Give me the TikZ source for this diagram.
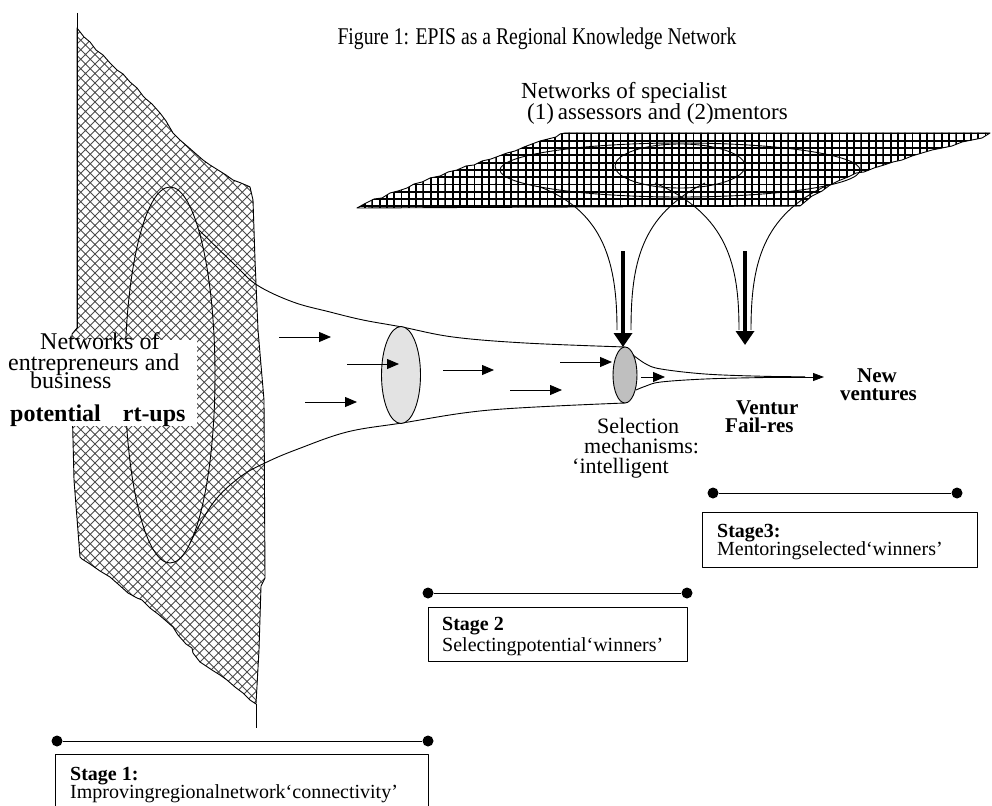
\documentclass[tikz,border=0pt]{standalone}
\usepackage{fontspec}
\setmainfont{Liberation Serif}
\usetikzlibrary{patterns,arrows.meta}
\pgfdeclarepatternformonly{xhatch}{\pgfpoint{-1pt}{-1pt}}{\pgfpoint{10.5pt}{10.5pt}}{\pgfpoint{9.5pt}{9.5pt}}{%
  \pgfsetlinewidth{0.8pt}%
  \pgfpathmoveto{\pgfpoint{-0.5pt}{-0.5pt}}\pgfpathlineto{\pgfpoint{10pt}{10pt}}%
  \pgfpathmoveto{\pgfpoint{-0.5pt}{10pt}}\pgfpathlineto{\pgfpoint{10pt}{-0.5pt}}%
  \pgfusepath{stroke}}
\pgfdeclarepatternformonly{sqgrid}{\pgfpoint{-1pt}{-1pt}}{\pgfpoint{8.3pt}{8.3pt}}{\pgfpoint{7.3pt}{7.3pt}}{%
  \pgfsetlinewidth{1.9pt}%
  \pgfpathmoveto{\pgfpoint{0pt}{-1pt}}\pgfpathlineto{\pgfpoint{0pt}{8.3pt}}%
  \pgfpathmoveto{\pgfpoint{-1pt}{0pt}}\pgfpathlineto{\pgfpoint{8.3pt}{0pt}}%
  \pgfusepath{stroke}}
\begin{document}
\begin{tikzpicture}[x=1pt,y=-1pt,line join=round,
  outl/.style={line width=0.9pt},
  flow/.style={-{Triangle[length=12pt,width=10pt]},line width=0.8pt},
  bigflow/.style={-{Triangle[length=14pt,width=18pt]},line width=3.5pt},
  lbl/.style={inner sep=0pt,anchor=base west,font=\fontsize{24}{20}\selectfont},
  rlbl/.style={inner sep=0pt,anchor=base west,font=\fontsize{22}{20}\selectfont},
  blbl/.style={inner sep=0pt,anchor=base west,font=\fontsize{21}{20}\selectfont\bfseries},
  stagetxt/.style={inner sep=0pt,anchor=base west,font=\fontsize{20}{18}\selectfont},
  stagehead/.style={stagetxt,font=\fontsize{20}{18}\selectfont\bfseries},
  stagebox/.style={draw,line width=0.9pt,fill=white},
  dot/.style={circle,fill=black,inner sep=0pt,minimum size=11pt}]
\useasboundingbox (0,0) rectangle (992,805);
\clip (0,0) rectangle (992,805);

% title
\node[inner sep=0pt,anchor=base] (title) at (537,45) {\fontsize{24}{24}\selectfont\scalebox{0.82}[1]{Figure 1: EPIS as a Regional Knowledge Network}};

% left hatched region
\draw[outl,pattern=xhatch,pattern color=black!70]
  (77,28) -- (84,37) -- (90,42) -- (96,50) -- (103,55) -- (110,63) -- (117,70) -- (123,74) -- (130,82) -- (137,88) -- (143,96) -- (146,99) -- (152,104) -- (160,113) -- (166,121) -- (173,133) -- (180,140) -- (187,146) -- (195,153) -- (203,160) -- (210,165) -- (218,170) -- (226,175) -- (233,180) -- (241,183) -- (248,186) -- (250,187)
  -- (253,200) -- (255,260) -- (258,330) -- (264,400) -- (265,578) -- (261,586) -- (259,650) -- (256,704)
  -- (250,700) -- (243,693) -- (235,687) -- (227,680) -- (220,675) -- (212,670) -- (200,662) -- (193,653) -- (192,648) -- (186,644) -- (178,635) -- (173,627) -- (165,620) -- (158,614) -- (150,608) -- (142,600) -- (137,598) -- (128,593) -- (118,584) -- (110,577) -- (100,571) -- (90,564) -- (82,559) -- (80,557)
  -- (74,480) -- (72,400) -- (72,334) -- (77,328) -- cycle;
\draw[outl] (77,13) -- (77,328);
\draw[outl] (256,704) -- (256,728);
\draw[outl] (170,375) ellipse [x radius=45, y radius=188];

% funnel
\draw[outl] plot[smooth,tension=0.6] coordinates {(199,230) (233,263) (257,285) (293,302) (330,312) (363,320) (402,327) (453,337) (525,343) (625,347)};
\draw[outl] plot[smooth,tension=0.6] coordinates {(190,543) (213,503) (240,477) (267,462) (298,449) (347,432) (402,423) (490,410) (625,403)};
\draw[outl,fill=gray!22] (401,375) ellipse [x radius=19.5, y radius=48.5];
\draw[outl,fill=gray!50] (625,375) ellipse [x radius=12, y radius=28];
\draw[outl] plot[smooth,tension=0.6] coordinates {(633,355) (646,364) (661,369) (705,374) (760,376.2) (805,376.8)};
\draw[outl] plot[smooth,tension=0.6] coordinates {(636,390) (646,386) (661,382) (705,379) (760,377.6) (805,377.2)};

% label on the left
\fill[white] (0,340) rectangle (197,426);
\node[lbl] (l1) at (40,349) {Networks of};
\node[lbl] (l2) at (8,370) {entrepreneurs and};
\node[lbl] (l3) at (30,388) {business};
\node[lbl,font=\fontsize{24}{20}\selectfont\bfseries] (l4) at (10,421) {potential\hspace{22pt}rt-ups};

% flow arrows
\coordinate (f1s) at (279,337); \coordinate (f1e) at (331,337);
\coordinate (f2s) at (347,364); \coordinate (f2e) at (399,364);
\coordinate (f3s) at (305,402); \coordinate (f3e) at (357,402);
\coordinate (f4s) at (443,370); \coordinate (f4e) at (494,370);
\coordinate (f5s) at (560,362); \coordinate (f5e) at (612,362);
\coordinate (f6s) at (510,390); \coordinate (f6e) at (562,390);
\coordinate (f7s) at (641,377); \coordinate (f7e) at (665,377);
\coordinate (ms) at (770,377); \coordinate (me) at (824,377);
\foreach \a in {1,...,7} {\draw[flow] (f\a s) -- (f\a e);}
\draw[flow,-{Triangle[length=11pt,width=8pt]}] (ms) -- (me);

% top grid region
\draw[outl,pattern=sqgrid,pattern color=black]
  (357,208) -- (366,203) -- (374,199) -- (382,198) -- (390,193) -- (398,191) -- (407,188) -- (414,184) -- (422,182) -- (430,178) -- (440,176) -- (448,172) -- (457,170) -- (466,166) -- (474,165) -- (482,161) -- (491,159) -- (499,156) -- (507,153) -- (515,151) -- (524,147) -- (532,144) -- (540,141) -- (548,139) -- (556,137) -- (560,134) -- (565,133)
  -- (990,133)
  -- (982,138) -- (972,140) -- (962,142) -- (952,146) -- (942,148) -- (932,150) -- (922,153) -- (912,156) -- (902,160) -- (893,162) -- (884,165) -- (874,168) -- (864,172) -- (856,173) -- (848,177) -- (838,181) -- (830,185) -- (822,191) -- (812,196) -- (806,201) -- (800,206)
  -- cycle;
\draw[outl] (680,170) ellipse [x radius=180, y radius=27];
\draw[outl] (680,166) ellipse [x radius=65, y radius=22];
\node[lbl,font=\fontsize{23}{20}\selectfont] (s1) at (521,99) {Networks of specialist};
\node[lbl,font=\fontsize{23}{20}\selectfont] (s2) at (527,120) {(1)\,assessors and (2)mentors};

% curves from the networks
\draw[outl] (540,187) .. controls (605,212) and (617,265) .. (617,330);
\draw[outl] (705,183) .. controls (640,215) and (631,265) .. (631,330);
\draw[outl] (655,183) .. controls (728,215) and (739,265) .. (739,330);
\draw[outl] (828,185) .. controls (762,215) and (751,265) .. (751,330);
\coordinate (t1s) at (623,251); \coordinate (t1e) at (623,347);
\coordinate (t2s) at (745,251); \coordinate (t2e) at (745,345);
\draw[bigflow] (t1s) -- (t1e);
\draw[bigflow] (t2s) -- (t2e);

% right texts
\node[rlbl] (sel1) at (597,433) {Selection};
\node[rlbl] (sel2) at (584,453) {mechanisms:};
\node[rlbl] (sel3) at (572,473) {‘intelligent};
\node[blbl] (v1) at (736,414) {Ventur};
\node[blbl] (v2) at (725,432) {Fail-res};
\node[blbl] (n1) at (857,382) {New};
\node[blbl] (n2) at (840,400) {ventures};

% stage 3
\node[dot] (d3a) at (713,493) {}; \node[dot] (d3b) at (957,493) {};
\draw[line width=1pt] (d3a) -- (d3b);
\draw[stagebox] (702,512) rectangle (977,567);
\node[stagehead] (st3a) at (717,537) {Stage3:};
\node[stagetxt] (st3b) at (717,555) {Mentoringselected‘winners’};

% stage 2
\node[dot] (d2a) at (428,593) {}; \node[dot] (d2b) at (687,593) {};
\draw[line width=1pt] (d2a) -- (d2b);
\draw[stagebox] (428,607) rectangle (687,661);
\node[stagehead] (st2a) at (442,630) {Stage 2};
\node[stagetxt] (st2b) at (442,651) {Selectingpotential‘winners’};

% stage 1
\node[dot] (d1a) at (57,741) {}; \node[dot] (d1b) at (428,741) {};
\draw[line width=1pt] (d1a) -- (d1b);
\draw[stagebox] (55,754) rectangle (428,830);
\node[stagehead] (st1a) at (70,780) {Stage 1:};
\node[stagetxt] (st1b) at (70,798) {Improvingregionalnetwork‘connectivity’};
\end{tikzpicture}
\end{document}
